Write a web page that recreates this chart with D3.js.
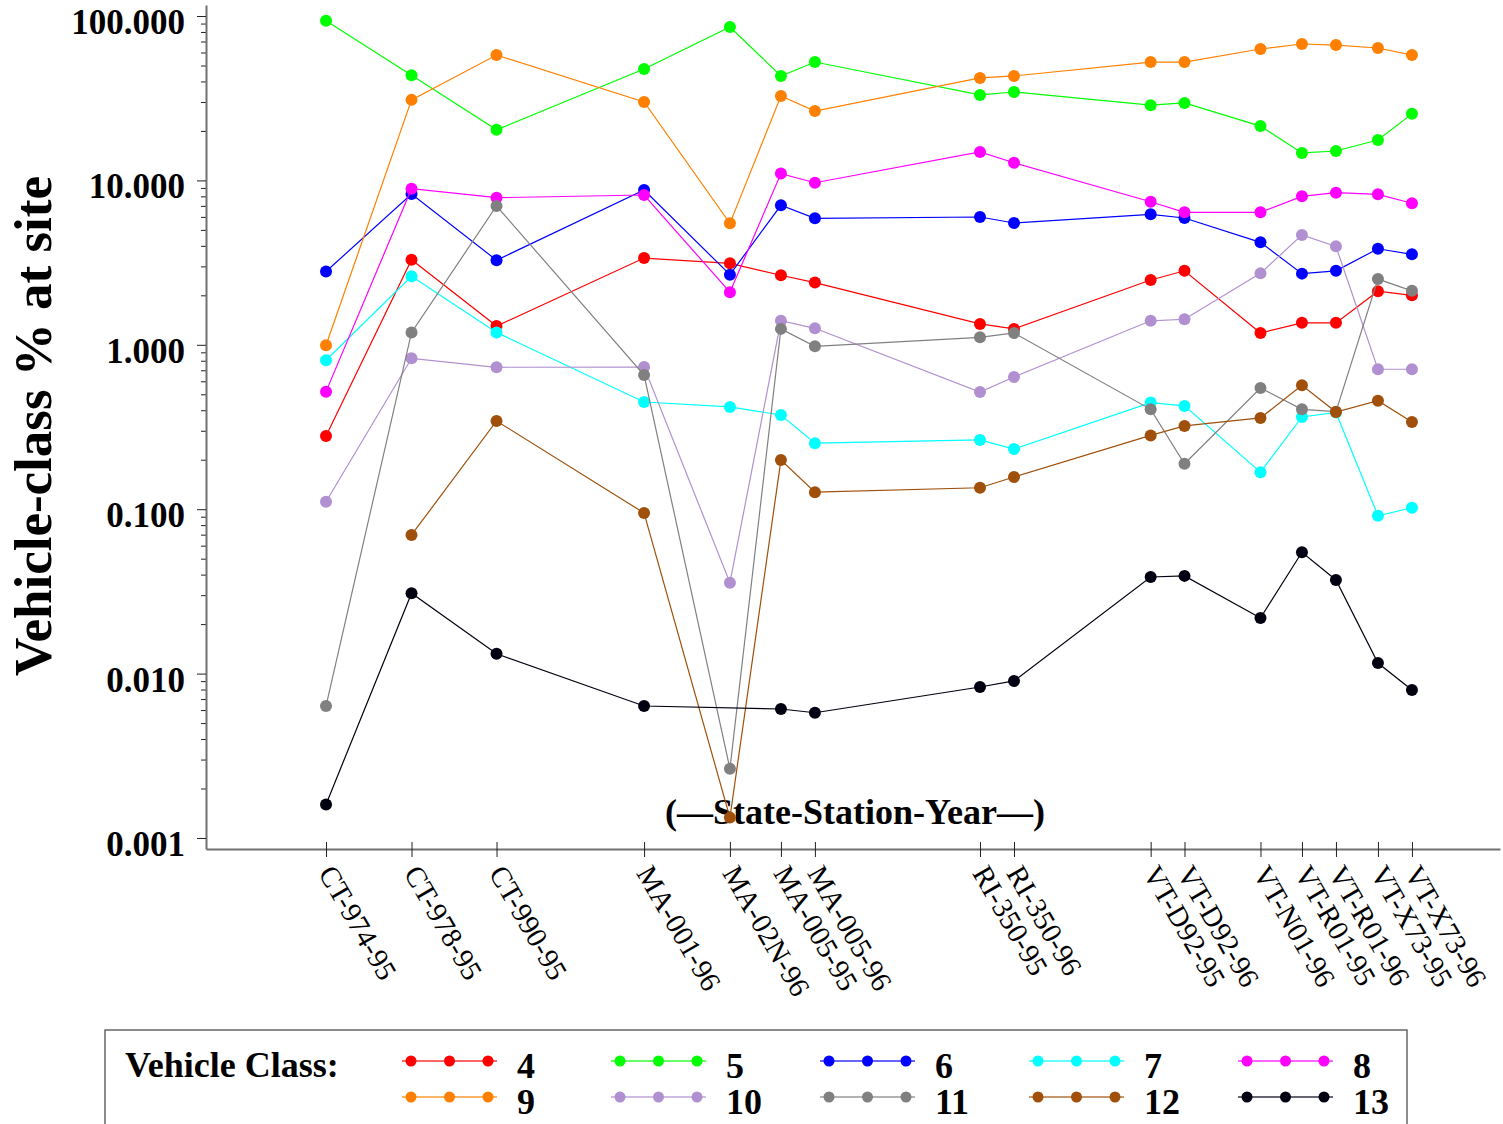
<!DOCTYPE html>
<html>
<head>
<meta charset="utf-8">
<script src="https://cdn.jsdelivr.net/npm/d3@7"></script>
<style>
  body { margin: 0; background: #fff; }
  svg { display: block; font-family: "Liberation Serif", "Times New Roman", serif; }
</style>
</head>
<body>
<svg id="chart" width="1503" height="1124"></svg>
<script>
// Stations along the x axis and where they sit (uneven spacing, as in the source)
const stations = ['CT-974-95', 'CT-978-95', 'CT-990-95', 'MA-001-96', 'MA-02N-96', 'MA-005-95', 'MA-005-96',
  'RI-350-95', 'RI-350-96', 'VT-D92-95', 'VT-D92-96', 'VT-N01-96', 'VT-R01-95', 'VT-R01-96', 'VT-X73-95', 'VT-X73-96'];
const stationPos = [1, 6.03, 11.03, 19.71, 24.76, 27.76, 29.76, 39.47, 41.47, 49.51, 51.5, 55.97, 58.41, 60.41, 62.88, 64.88];

// Vehicle-class share (%) at each station; null = no value
const class4 = [0.279, 3.29, 1.30, 3.37, 3.13, 2.65, 2.39, 1.34, 1.25, 2.48, 2.82, 1.18, 1.36, 1.36, 2.12, 2.00];
const class5 = [93.6, 43.6, 20.3, 47.6, 85.8, 43.2, 52.5, 33.1, 34.5, 28.7, 29.6, 21.4, 14.7, 15.1, 17.6, 25.4];
const class6 = [2.79, 8.27, 3.27, 8.74, 2.67, 7.06, 5.88, 5.99, 5.51, 6.22, 5.91, 4.20, 2.71, 2.82, 3.84, 3.55];
const class7 = [0.805, 2.61, 1.19, 0.449, 0.419, 0.374, 0.252, 0.264, 0.232, 0.445, 0.425, 0.168, 0.364, 0.388, 0.0912, 0.102];
const class8 = [0.519, 8.91, 7.85, 8.15, 2.09, 11.0, 9.68, 14.9, 12.8, 7.42, 6.40, 6.40, 8.00, 8.42, 8.23, 7.26];
const class9 = [0.993, 30.9, 57.9, 30.0, 5.48, 32.6, 26.4, 42.0, 43.2, 52.5, 52.5, 63.0, 67.6, 66.6, 63.9, 57.9];
const class10 = [0.111, 0.828, 0.730, 0.733, 0.0357, 1.40, 1.26, 0.516, 0.637, 1.40, 1.43, 2.72, 4.66, 3.97, 0.710, 0.710];
const class11 = [0.00635, 1.19, 6.99, 0.655, 0.00264, 1.25, 0.979, 1.11, 1.18, 0.405, 0.189, 0.546, 0.405, 0.392, 2.51, 2.13];
const class12 = [null, 0.0697, 0.344, 0.0948, 0.00133, 0.199, 0.127, 0.135, 0.157, 0.281, 0.321, 0.359, 0.567, 0.390, 0.457, 0.339];
const class13 = [0.00160, 0.0308, 0.0132, 0.00635, null, 0.00609, 0.00578, 0.00829, 0.00902, 0.0387, 0.0393, 0.0218, 0.0547, 0.0371, 0.0116, 0.00794];

const classNames = ['4', '5', '6', '7', '8', '9', '10', '11', '12', '13'];
const classValues = [class4, class5, class6, class7, class8, class9, class10, class11, class12, class13];
const classColors = ['#ff0000', '#00ff00', '#0000ff', '#00ffff', '#ff00ff', '#ff8000', '#b090d0', '#808080', '#a0500a', '#000010'];

const yMajorTicks = [0.001, 0.01, 0.1, 1, 10, 100];

const svg = d3.select('#chart');

// Scales
const x = d3.scaleLinear().domain([-6.06, 70.06]).range([206, 1500]);
const y = d3.scaleLog().domain([0.000857, 116.7]).range([849, 5]);

// Minor ticks 2..9 in each decade
const yMinorTicks = [];
yMajorTicks.slice(0, -1).forEach(t => {
  for (let k = 2; k <= 9; k++) yMinorTicks.push(t * k);
});

// Y axis: minor ticks first, then major ticks with labels
const yMinor = svg.append('g')
  .attr('transform', `translate(${x.range()[0]},0)`)
  .call(d3.axisLeft(y).tickValues(yMinorTicks).tickSize(5).tickSizeOuter(0).tickFormat(''));
yMinor.select('.domain').remove();
yMinor.selectAll('line').attr('stroke', '#222');

const yAxis = svg.append('g')
  .attr('transform', `translate(${x.range()[0]},0)`)
  .call(d3.axisLeft(y).tickValues(yMajorTicks).tickSize(9).tickSizeOuter(0).tickPadding(12).tickFormat(d3.format('.3f')));
yAxis.select('.domain').attr('stroke', '#707070').attr('stroke-width', 2);
yAxis.selectAll('line').attr('stroke', '#222');
yAxis.selectAll('text')
  .attr('dy', '0.5em')
  .style('font-family', '"Liberation Serif", serif')
  .style('font-weight', 'bold')
  .style('font-size', '35px')
  .attr('fill', '#000');

// X axis with rotated station labels
const xAxis = svg.append('g')
  .attr('transform', `translate(0,${y.range()[0]})`)
  .call(d3.axisBottom(x).tickValues(stationPos).tickSize(8).tickSizeOuter(0)
    .tickFormat((d, i) => stations[i]));
xAxis.select('.domain').attr('stroke', '#707070').attr('stroke-width', 2);
xAxis.selectAll('.tick line').attr('y1', -7).attr('stroke', '#222');
xAxis.selectAll('text')
  .attr('y', 0)
  .attr('dy', '0.35em')
  .attr('text-anchor', 'start')
  .attr('transform', 'translate(0,19) rotate(60)')
  .style('font-family', '"Liberation Serif", serif')
  .style('font-size', '29px')
  .attr('fill', '#000');

// Y axis title
svg.append('text')
  .attr('transform', 'translate(51,426) rotate(-90)')
  .attr('text-anchor', 'middle')
  .style('font-weight', 'bold')
  .style('font-size', '53px')
  .text('Vehicle-class % at site');

// In-plot x axis title (drawn under the series)
svg.append('text')
  .attr('x', 855)
  .attr('y', 824)
  .attr('text-anchor', 'middle')
  .style('font-weight', 'bold')
  .style('font-size', '36px')
  .text('(\u2014State-Station-Year\u2014)');

// Series: line then dots, in class order
const line = d3.line().x(d => x(d.pos)).y(d => y(d.value));

classNames.forEach((name, ci) => {
  const pts = classValues[ci]
    .map((v, i) => ({ pos: stationPos[i], value: v }))
    .filter(d => d.value !== null);
  const g = svg.append('g').attr('class', 'series-' + name);
  g.append('path')
    .datum(pts)
    .attr('d', line)
    .attr('fill', 'none')
    .attr('stroke', classColors[ci])
    .attr('stroke-width', 1.2);
  g.selectAll('circle')
    .data(pts)
    .enter().append('circle')
    .attr('cx', d => x(d.pos))
    .attr('cy', d => y(d.value))
    .attr('r', 6)
    .attr('fill', classColors[ci]);
});

// Legend
const legend = svg.append('g');
legend.append('rect')
  .attr('x', 105).attr('y', 1030)
  .attr('width', 1302).attr('height', 130)
  .attr('fill', 'none')
  .attr('stroke', '#666')
  .attr('stroke-width', 1.5);
legend.append('text')
  .attr('x', 125).attr('y', 1077)
  .style('font-weight', 'bold')
  .style('font-size', '36px')
  .text('Vehicle Class:');

classNames.forEach((name, ci) => {
  const col = ci % 5, row = Math.floor(ci / 5);
  const lx = 411 + col * 209;
  const ly = 1061 + row * 36;
  const item = legend.append('g').attr('transform', `translate(${lx},${ly})`);
  item.append('line')
    .attr('x1', -9).attr('x2', 86)
    .attr('stroke', classColors[ci])
    .attr('stroke-width', 2)
    .attr('stroke-opacity', 0.6);
  item.selectAll('circle')
    .data([0, 38.5, 77])
    .enter().append('circle')
    .attr('cx', d => d)
    .attr('r', 5.5)
    .attr('fill', classColors[ci]);
  item.append('text')
    .attr('x', 106).attr('y', 16.5)
    .style('font-weight', 'bold')
    .style('font-size', '36px')
    .text(name);
});
</script>
</body>
</html>
